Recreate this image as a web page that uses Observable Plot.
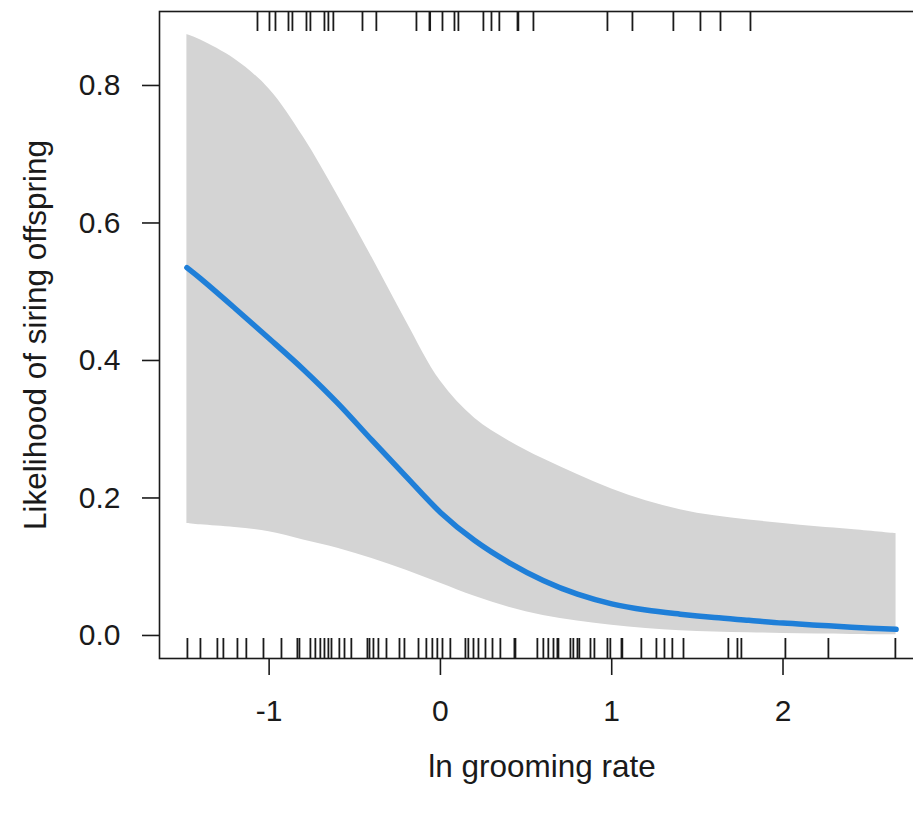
<!DOCTYPE html>
<html>
<head>
<meta charset="utf-8">
<script src="https://cdn.jsdelivr.net/npm/d3@7"></script>
<script src="https://cdn.jsdelivr.net/npm/@observablehq/plot@0.6"></script>
<style>
  html, body { margin: 0; padding: 0; background: white; }
</style>
</head>
<body>
<div id="chart"></div>
<script>
// Fitted curve and confidence band (ln grooming rate vs likelihood)
const fitX  = [-1.48, -1.4, -1.2, -1.0, -0.8, -0.6, -0.4, -0.2, 0, 0.2, 0.4, 0.6, 0.8, 1.0, 1.2, 1.4, 1.6, 1.8, 2.0, 2.2, 2.4, 2.66];
const fitY  = [0.535, 0.519, 0.476, 0.432, 0.387, 0.338, 0.284, 0.231, 0.179, 0.138, 0.106, 0.080, 0.060, 0.046, 0.037, 0.031, 0.026, 0.022, 0.018, 0.015, 0.012, 0.009];
const upper = [0.874, 0.866, 0.838, 0.795, 0.725, 0.640, 0.550, 0.457, 0.370, 0.316, 0.283, 0.257, 0.234, 0.213, 0.196, 0.183, 0.174, 0.168, 0.163, 0.158, 0.154, 0.148];
const lower = [0.163, 0.161, 0.157, 0.151, 0.139, 0.127, 0.112, 0.095, 0.076, 0.057, 0.041, 0.029, 0.021, 0.015, 0.010, 0.007, 0.005, 0.004, 0.003, 0.002, 0.0015, 0.001];

// Rug: males that did not sire (bottom) and that sired (top)
const rugNo = [-1.477, -1.401, -1.302, -1.267, -1.185, -1.133, -1.033, -0.928, -0.835, -0.823, -0.759, -0.730, -0.701, -0.677, -0.654, -0.636, -0.590, -0.560, -0.520, -0.426, -0.414, -0.391, -0.362, -0.315, -0.239, -0.210, -0.128, -0.082, -0.047, -0.018, 0.012, 0.058, 0.146, 0.163, 0.193, 0.222, 0.263, 0.304, 0.350, 0.432, 0.438, 0.566, 0.601, 0.630, 0.660, 0.683, 0.689, 0.759, 0.776, 0.800, 0.811, 0.876, 0.899, 0.975, 0.992, 1.057, 1.062, 1.173, 1.261, 1.308, 1.354, 1.419, 1.681, 1.734, 1.757, 2.014, 2.265, 2.656];
const rugYes = [-1.068, -0.998, -0.963, -0.887, -0.864, -0.782, -0.759, -0.677, -0.654, -0.625, -0.455, -0.374, -0.140, -0.064, -0.060, 0.012, 0.082, 0.105, 0.251, 0.298, 0.344, 0.450, 0.455, 0.543, 0.975, 1.121, 1.360, 1.518, 1.635, 1.810];

const xTicks = [-1, 0, 1, 2];
const yTicks = [0, 0.2, 0.4, 0.6, 0.8];
const xTitle = "ln grooming rate";
const yTitle = "Likelihood of siring offspring";

const fit = fitX.map((x, i) => ({x, y: fitY[i], lo: lower[i], hi: upper[i]}));

const ink = "#1a1a1a";
const plotH = 813 - 11 - 155;

const chart = Plot.plot({
  width: 913,
  height: 813,
  marginLeft: 159,
  marginRight: -11,
  marginTop: 11,
  marginBottom: 155,
  style: {fontFamily: "'Liberation Sans', Arial, sans-serif", background: "white", color: ink},
  x: {domain: [-1.64, 2.826]},
  y: {domain: [-0.0335, 0.9076]},
  marks: [
    Plot.areaY(fit, {x: "x", y1: "lo", y2: "hi", fill: "#d4d4d4", curve: "catmull-rom"}),
    Plot.line(fit, {x: "x", y: "y", stroke: "#1f7fd8", strokeWidth: 5.5, curve: "catmull-rom"}),
    Plot.tickX(rugNo, {x: d => d, insetTop: plotH - 20, stroke: ink, strokeWidth: 1.8}),
    Plot.tickX(rugYes, {x: d => d, insetBottom: plotH - 20, stroke: ink, strokeWidth: 1.8}),
    Plot.frame({stroke: ink, strokeWidth: 1.6}),
    Plot.axisX({ticks: xTicks, tickFormat: d => String(d), tickSize: 17, tickPadding: 24, fontSize: 30, label: null, stroke: ink, strokeWidth: 1.6, fill: ink}),
    Plot.axisY({ticks: yTicks, tickFormat: d3.format(".1f"), tickSize: 17, tickPadding: 22, fontSize: 30, label: null, stroke: ink, strokeWidth: 1.6, fill: ink}),
    Plot.text([xTitle], {text: d => d, frameAnchor: "bottom", dy: 118, fontSize: 31.5, fill: ink}),
    Plot.text([yTitle], {text: d => d, frameAnchor: "left", textAnchor: "middle", rotate: -90, dx: -124, fontSize: 31.5, fill: ink})
  ]
});
document.getElementById("chart").appendChild(chart);
</script>
</body>
</html>
